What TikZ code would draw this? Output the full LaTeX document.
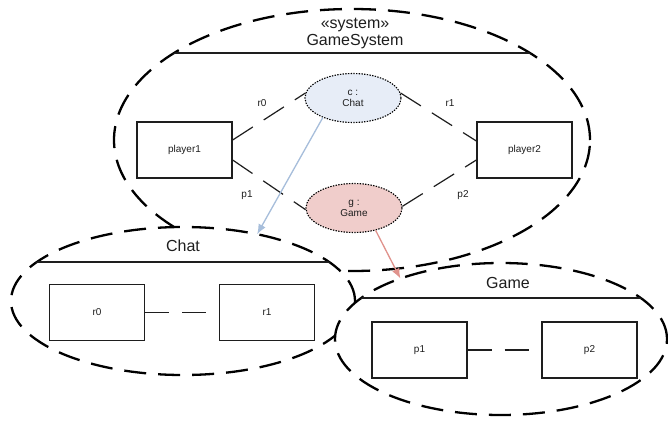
\documentclass[tikz,border=0pt]{standalone}
\usepackage{fontspec}
\setmainfont{Liberation Sans}
\usetikzlibrary{shapes.geometric,arrows.meta}

\definecolor{chatfill}{RGB}{231,237,247}
\definecolor{gamefill}{RGB}{240,205,203}
\definecolor{chatarrow}{RGB}{167,190,219}
\definecolor{gamearrow}{RGB}{224,146,140}
\definecolor{ink}{RGB}{30,30,30}

\tikzset{
  container/.style={ellipse, draw=black, fill=white, line width=2.3pt,
    dash pattern=on 22pt off 12pt, inner sep=0pt, outer sep=0pt},
  titleline/.style={draw=ink, line width=1.5pt},
  title/.style={align=center, text=ink, font=\fontsize{16}{17}\selectfont},
  partbox/.style={draw=ink, fill=white, line width=1.3pt, minimum width=95pt,
    minimum height=56pt, inner sep=0pt, text=ink, font=\fontsize{10}{11}\selectfont},
  rolepart/.style={ellipse, draw=black, line width=1.1pt, dash pattern=on 1.4pt off 1.3pt,
    minimum width=96pt, minimum height=49pt, inner sep=0pt, align=center, text=ink,
    font=\fontsize{10}{11}\selectfont},
  conn/.style={draw=ink, line width=1.2pt, dash pattern=on 24pt off 13pt},
  rolelabel/.style={text=ink, font=\fontsize{10}{11}\selectfont, inner sep=0pt},
  typearrow/.style={line width=1.3pt, -{Latex[length=10pt,width=8pt]}},
}

\begin{document}
\begin{tikzpicture}[x=1pt,y=-1pt]
\useasboundingbox (0,0) rectangle (668,420);

% ---- GameSystem ----
\node[container, minimum width=476pt, minimum height=262pt] (gamesystem) at (352,140) {};
\begin{scope}
  \clip (352,140) ellipse [x radius=238, y radius=131];
  \draw[titleline] (100,53) -- (600,53);
\end{scope}
\node[title] (gstitle) at (355,33) {«system»\\GameSystem};

\node[partbox] (player1) at (184.5,150) {player1};
\node[partbox] (player2) at (524.5,150) {player2};
\node[rolepart, fill=chatfill] (c) at (353,98) {c :\\Chat};
\node[rolepart, fill=gamefill] (g) at (354,208) {g :\\Game};

\draw[conn] ([yshift=10pt]player1.east) -- (c.174);
\draw[conn] (c.6) -- ([yshift=9pt]player2.west);
\draw[conn] ([yshift=-10pt]player1.east) -- (g.182);
\draw[conn] (g.2) -- ([yshift=-10pt]player2.west);

\node[rolelabel] (lr0) at (262,103) {r0};
\node[rolelabel] (lr1) at (450,103) {r1};
\node[rolelabel] (lp1) at (247,195) {p1};
\node[rolelabel] (lp2) at (463,195) {p2};

% ---- Chat ----
\node[container, minimum width=344pt, minimum height=148pt] (chatpart) at (183,301) {};
\begin{scope}
  \clip (183,301) ellipse [x radius=172, y radius=74];
  \draw[titleline] (0,262) -- (400,262);
\end{scope}
\node[title] (chattitle) at (183,246) {Chat};
\node[partbox] (r0) at (97,312.5) {r0};
\node[partbox] (r1) at (267,312.5) {r1};
\draw[conn] (r0) -- (r1);

% ---- Game ----
\node[container, minimum width=332pt, minimum height=152pt] (gamepart) at (501,339) {};
\begin{scope}
  \clip (501,339) ellipse [x radius=166, y radius=76];
  \draw[titleline] (300,298) -- (700,298);
\end{scope}
\node[title] (gametitle) at (508,283) {Game};
\node[partbox] (p1) at (419.5,350) {p1};
\node[partbox] (p2) at (589.5,350) {p2};
\draw[conn] (p1) -- (p2);

% ---- typing arrows ----
\draw[typearrow, draw=chatarrow, fill=chatarrow] (c.213) -- (chatpart.42);
\draw[typearrow, draw=gamearrow, fill=gamearrow] (g.-46) -- (gamepart.149);
\end{tikzpicture}
\end{document}
